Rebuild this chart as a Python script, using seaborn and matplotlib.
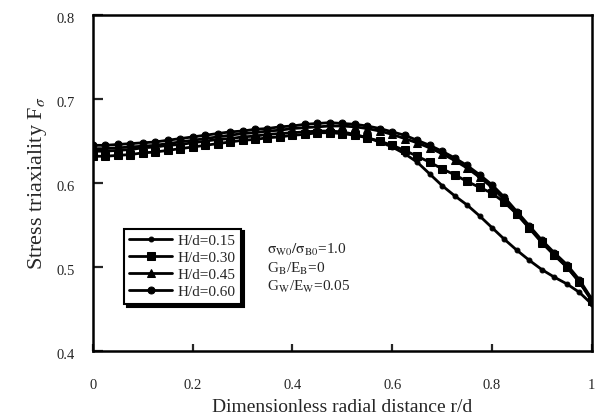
import numpy as np
import pandas as pd
import seaborn as sns
import matplotlib.pyplot as plt
import matplotlib.transforms as mtransforms

# radial positions r/d
r = [0.000, 0.025, 0.050, 0.075, 0.100, 0.125, 0.150, 0.175, 0.200, 0.225,
     0.250, 0.275, 0.300, 0.325, 0.350, 0.375, 0.400, 0.425, 0.450, 0.475,
     0.500, 0.525, 0.550, 0.575, 0.600, 0.625, 0.650, 0.675, 0.700, 0.725,
     0.750, 0.775, 0.800, 0.825, 0.850, 0.875, 0.900, 0.925, 0.950, 0.975, 1.000]

# stress triaxiality
f_015 = [0.638, 0.638, 0.639, 0.640, 0.642, 0.643, 0.645, 0.646, 0.648, 0.650,
         0.652, 0.653, 0.655, 0.656, 0.658, 0.659, 0.660, 0.661, 0.662, 0.662,
         0.661, 0.658, 0.654, 0.649, 0.643, 0.635, 0.625, 0.611, 0.597, 0.585,
         0.574, 0.561, 0.547, 0.533, 0.520, 0.508, 0.497, 0.488, 0.480, 0.470, 0.456]
f_030 = [0.632, 0.632, 0.633, 0.634, 0.636, 0.637, 0.639, 0.641, 0.643, 0.645,
         0.647, 0.649, 0.651, 0.652, 0.654, 0.655, 0.657, 0.658, 0.660, 0.660,
         0.659, 0.657, 0.654, 0.650, 0.645, 0.639, 0.632, 0.625, 0.617, 0.610,
         0.602, 0.595, 0.588, 0.577, 0.563, 0.547, 0.530, 0.515, 0.500, 0.482, 0.460]
f_045 = [0.641, 0.641, 0.642, 0.643, 0.644, 0.645, 0.647, 0.649, 0.651, 0.653,
         0.655, 0.657, 0.659, 0.660, 0.662, 0.663, 0.665, 0.666, 0.667, 0.668,
         0.668, 0.667, 0.665, 0.662, 0.658, 0.653, 0.648, 0.642, 0.635, 0.627,
         0.618, 0.607, 0.595, 0.580, 0.563, 0.546, 0.529, 0.514, 0.500, 0.483, 0.461]
f_060 = [0.645, 0.645, 0.646, 0.647, 0.648, 0.649, 0.651, 0.653, 0.655, 0.657,
         0.659, 0.661, 0.662, 0.664, 0.665, 0.667, 0.668, 0.670, 0.671, 0.672,
         0.671, 0.670, 0.668, 0.665, 0.661, 0.657, 0.651, 0.645, 0.638, 0.630,
         0.621, 0.610, 0.598, 0.583, 0.566, 0.549, 0.532, 0.517, 0.503, 0.485, 0.462]

labels = ["H/d=0.15", "H/d=0.30", "H/d=0.45", "H/d=0.60"]
series = [f_015, f_030, f_045, f_060]
markers = ["o", "s", "^", "o"]
msizes = [3.5, 6.0, 5.5, 5.0]

sns.set_style("ticks")
plt.rcParams["font.family"] = ["Liberation Serif", "DejaVu Serif"]
plt.rcParams["mathtext.fontset"] = "stix"

fig = plt.figure(figsize=(5.99, 4.20), dpi=100)
ax = fig.add_axes([0.155, 0.164, 0.833, 0.800])

for lab, vals, mk, ms in zip(labels, series, markers, msizes):
    df = pd.DataFrame({"r": r, "F": vals})
    sns.lineplot(data=df, x="r", y="F", ax=ax, color="black", linewidth=2.0,
                 marker=mk, markersize=ms, markeredgecolor="black",
                 markerfacecolor="black", label=lab)

ax.set_xlim(0, 1)
ax.set_ylim(0.4, 0.8)
ax.set_xticks([0, 0.2, 0.4, 0.6, 0.8, 1])
ax.set_xticklabels(["0", "0.2", "0.4", "0.6", "0.8", "1"])
ax.set_yticks([0.4, 0.5, 0.6, 0.7, 0.8])
ax.set_yticklabels(["0.4", "0.5", "0.6", "0.7", "0.8"])
ax.tick_params(axis="y", direction="in", length=7, width=1.6, pad=13,
               labelsize=10.5, right=False)
ax.tick_params(axis="x", direction="in", length=5, width=1.6, pad=20,
               labelsize=10.5, top=False)
for sp in ax.spines.values():
    sp.set_visible(True)
    sp.set_linewidth(1.8)
    sp.set_color("black")

# y tick labels sit a little below their ticks in the original
offset = mtransforms.ScaledTranslation(0, -2 / 72, fig.dpi_scale_trans)
for t in ax.get_yticklabels():
    t.set_transform(t.get_transform() + offset)

ax.set_xlabel("Dimensionless radial distance r/d", fontsize=14, labelpad=5)
ax.set_ylabel(r"Stress triaxiality F$_\sigma$", fontsize=16, labelpad=5)

leg = ax.legend(loc="lower left", bbox_to_anchor=(0.062, 0.14),
                borderaxespad=0, fontsize=11, handlelength=2.8,
                labelspacing=0.22, handletextpad=0.4, borderpad=0.35,
                fancybox=False, framealpha=1,
                shadow={"color": "black", "alpha": 1})
leg.get_frame().set_edgecolor("black")
leg.get_frame().set_linewidth(1.5)

ax.text(0.35, 0.30, r"$\mathrm{\sigma_{W0}/\sigma_{B0}}$=1.0", transform=ax.transAxes,
        fontsize=11, va="center")
ax.text(0.35, 0.245, r"G$_\mathrm{B}$/E$_\mathrm{B}$=0", transform=ax.transAxes,
        fontsize=11, va="center")
ax.text(0.35, 0.19, r"G$_\mathrm{W}$/E$_\mathrm{W}$=0.05", transform=ax.transAxes,
        fontsize=11, va="center")

fig.savefig("out.png", dpi=100)
